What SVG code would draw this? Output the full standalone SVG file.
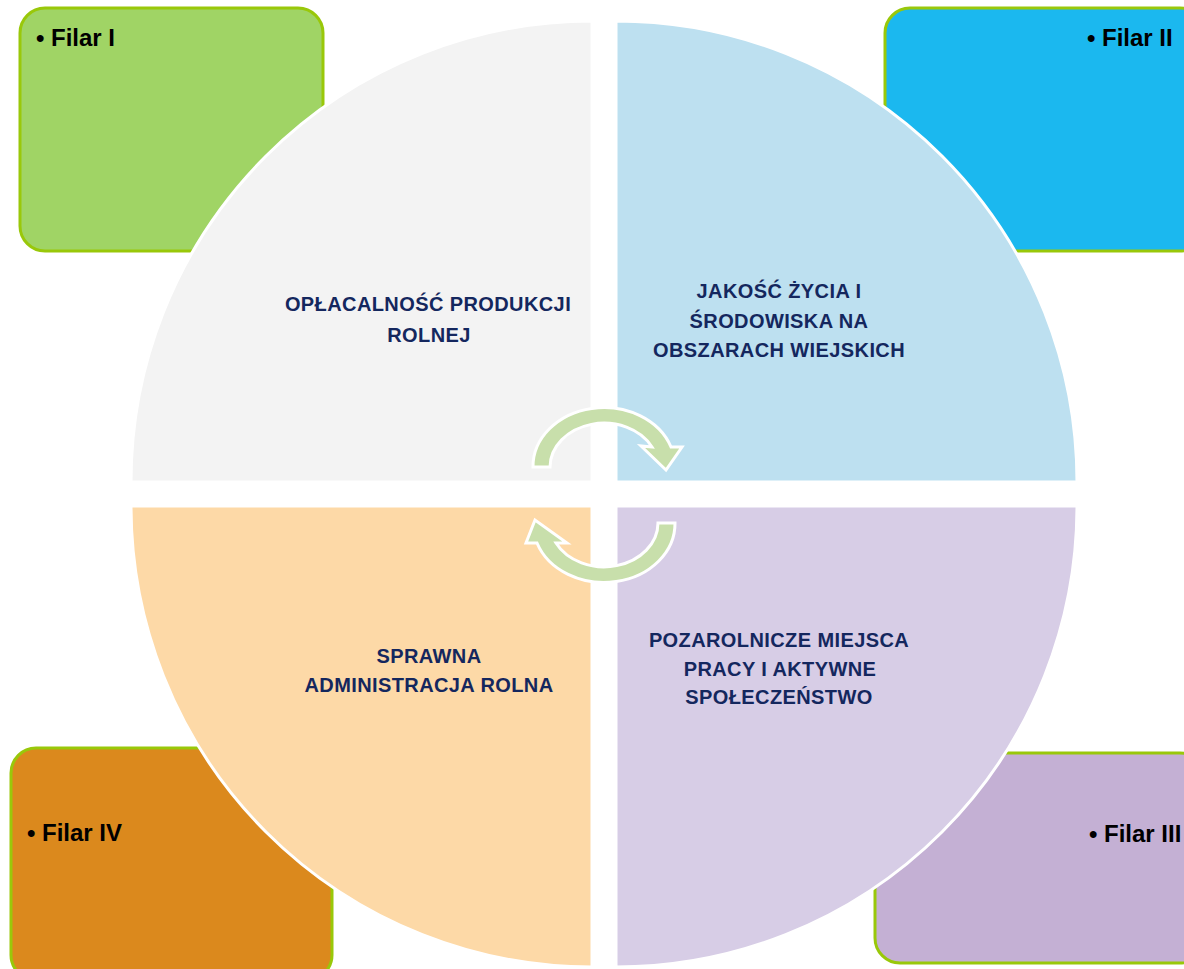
<svg xmlns="http://www.w3.org/2000/svg" width="1184" height="969" viewBox="0 0 1184 969">
<style>
.box{stroke:#99C80A;stroke-width:3}
.filar{font-family:"Liberation Sans",Arial,sans-serif;font-weight:bold;font-size:24px;fill:#000}
.quad{stroke:#fff;stroke-width:3}
.lbl{font-family:"Liberation Sans",Arial,sans-serif;font-weight:bold;font-size:20px;fill:#14275E;text-anchor:middle;letter-spacing:0.4px}
.arrow{fill:#C8DFAB;stroke:#fff;stroke-width:3;stroke-linejoin:miter}
</style>
<rect width="1184" height="969" fill="#fff"/>
<g id="filar1"><rect class="box" x="20" y="8" width="303" height="243" rx="25" fill="#A0D465"/>
<text class="filar" y="46"><tspan x="36">•</tspan><tspan x="51">Filar I</tspan></text></g>
<g id="filar2"><rect class="box" x="885" y="8" width="320" height="243" rx="25" fill="#1BB8EF"/>
<text class="filar" y="46"><tspan x="1087">•</tspan><tspan x="1102">Filar II</tspan></text></g>
<g id="filar4"><rect class="box" x="11" y="748" width="321" height="232" rx="25" fill="#DB891D"/>
<text class="filar" y="841"><tspan x="27">•</tspan><tspan x="42">Filar IV</tspan></text></g>
<g id="filar3"><rect class="box" x="875" y="753" width="330" height="210" rx="25" fill="#C4B0D4"/>
<text class="filar" y="842"><tspan x="1089">•</tspan><tspan x="1104">Filar III</tspan></text></g>

<g id="q1"><path class="quad" d="M592 482 L131 482 A461 461 0 0 1 592 21 Z" fill="#F3F3F3"/>
<text class="lbl"><tspan x="428" y="311">OPŁACALNOŚĆ PRODUKCJI</tspan><tspan x="429" y="342">ROLNEJ</tspan></text></g>
<g id="q2"><path class="quad" d="M616 482 L616 21 A461 461 0 0 1 1077 482 Z" fill="#BDE0F0"/>
<text class="lbl"><tspan x="779" y="298">JAKOŚĆ ŻYCIA I</tspan><tspan x="779" y="328">ŚRODOWISKA NA</tspan><tspan x="779" y="357">OBSZARACH WIEJSKICH</tspan></text></g>
<g id="q4"><path class="quad" d="M592 506 L131 506 A461 461 0 0 0 592 967 Z" fill="#FDD9A7"/>
<text class="lbl"><tspan x="429" y="663">SPRAWNA</tspan><tspan x="429" y="692">ADMINISTRACJA ROLNA</tspan></text></g>
<g id="q3"><path class="quad" d="M616 506 L1077 506 A461 461 0 0 1 616 967 Z" fill="#D7CDE6"/>
<text class="lbl"><tspan x="779" y="647">POZAROLNICZE MIEJSCA</tspan><tspan x="780" y="676">PRACY I AKTYWNE</tspan><tspan x="779" y="704">SPOŁECZEŃSTWO</tspan></text></g>

<g id="connectors">
<path class="arrow" d="M533 467 A71 59 0 0 1 671 447 L682 447 L666 470 L641 446 L652 447 A54 44 0 0 0 550 467 Z"/>
<path class="arrow" d="M675 523 A71 59 0 0 1 537 543 L526 543 L535 520 L567 543 L556 543 A54 44 0 0 0 658 523 Z"/>
</g>
</svg>
